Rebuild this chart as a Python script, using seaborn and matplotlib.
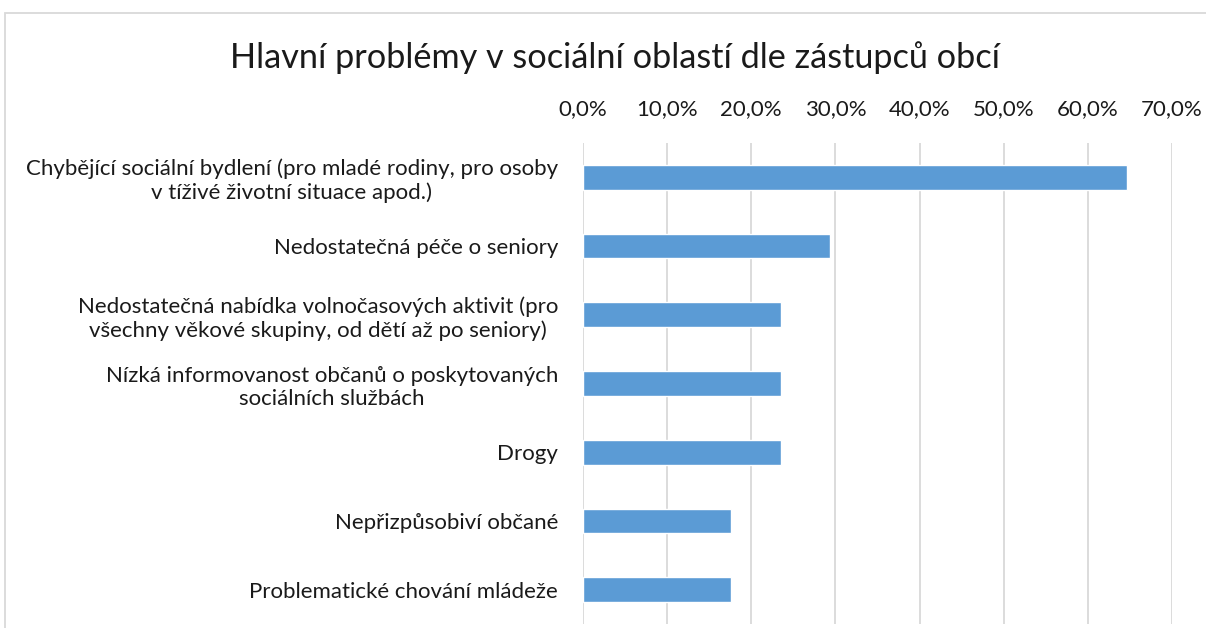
import matplotlib
matplotlib.use("Agg")
import matplotlib.pyplot as plt
import seaborn as sns
import pandas as pd
from matplotlib.ticker import FuncFormatter, MultipleLocator
from matplotlib.patches import Rectangle

categories = [
    "Chybějící sociální bydlení (pro mladé rodiny, pro osoby\nv tíživé životní situace apod.)",
    "Nedostatečná péče o seniory",
    "Nedostatečná nabídka volnočasových aktivit (pro\nvšechny věkové skupiny, od dětí až po seniory)",
    "Nízká informovanost občanů o poskytovaných\nsociálních službách",
    "Drogy",
    "Nepřizpůsobiví občané",
    "Problematické chování mládeže",
]
values = [0.647, 0.294, 0.235, 0.235, 0.235, 0.176, 0.176]
title = "Hlavní problémy v sociální oblastí dle zástupců obcí"

df = pd.DataFrame({"problem": categories, "share": values})

sns.set_theme(style="white")
plt.rcParams["font.family"] = ["Lato", "DejaVu Sans"]

fig = plt.figure(figsize=(12.06, 6.28), dpi=100)
ax = fig.add_axes([583 / 1206, 1 - 624 / 628, 589 / 1206, 481 / 628])

sns.barplot(data=df, x="share", y="problem", orient="h", color="#5B9BD5",
            width=0.36, saturation=1, ax=ax)

ax.set_xlim(0, 0.70)
ax.xaxis.set_major_locator(MultipleLocator(0.1))
ax.xaxis.set_major_formatter(FuncFormatter(lambda v, _: f"{v * 100:.1f}%".replace(".", ",")))
ax.xaxis.tick_top()
ax.grid(axis="x", color="#d9d9d9", linewidth=1.3)
ax.set_axisbelow(True)
for s in ax.spines.values():
    s.set_visible(False)
ax.tick_params(axis="x", length=0, pad=17, labelsize=16, colors="#1a1a1a")
ax.tick_params(axis="y", length=0, pad=18, labelsize=16, colors="#1a1a1a")
for lbl in ax.get_yticklabels():
    lbl.set_multialignment("center")
ax.set_xlabel("")
ax.set_ylabel("")

fig.text(615 / 1206, 1 - 58 / 628, title, ha="center", va="center", fontsize=24.7, color="#1a1a1a")
fig.patches.append(Rectangle((5 / 1206, -0.1), 1.2, 1 - 13 / 628 + 0.1, transform=fig.transFigure,
                             fill=False, edgecolor="#d9d9d9", linewidth=1.3))

fig.savefig("out.png", dpi=100)
